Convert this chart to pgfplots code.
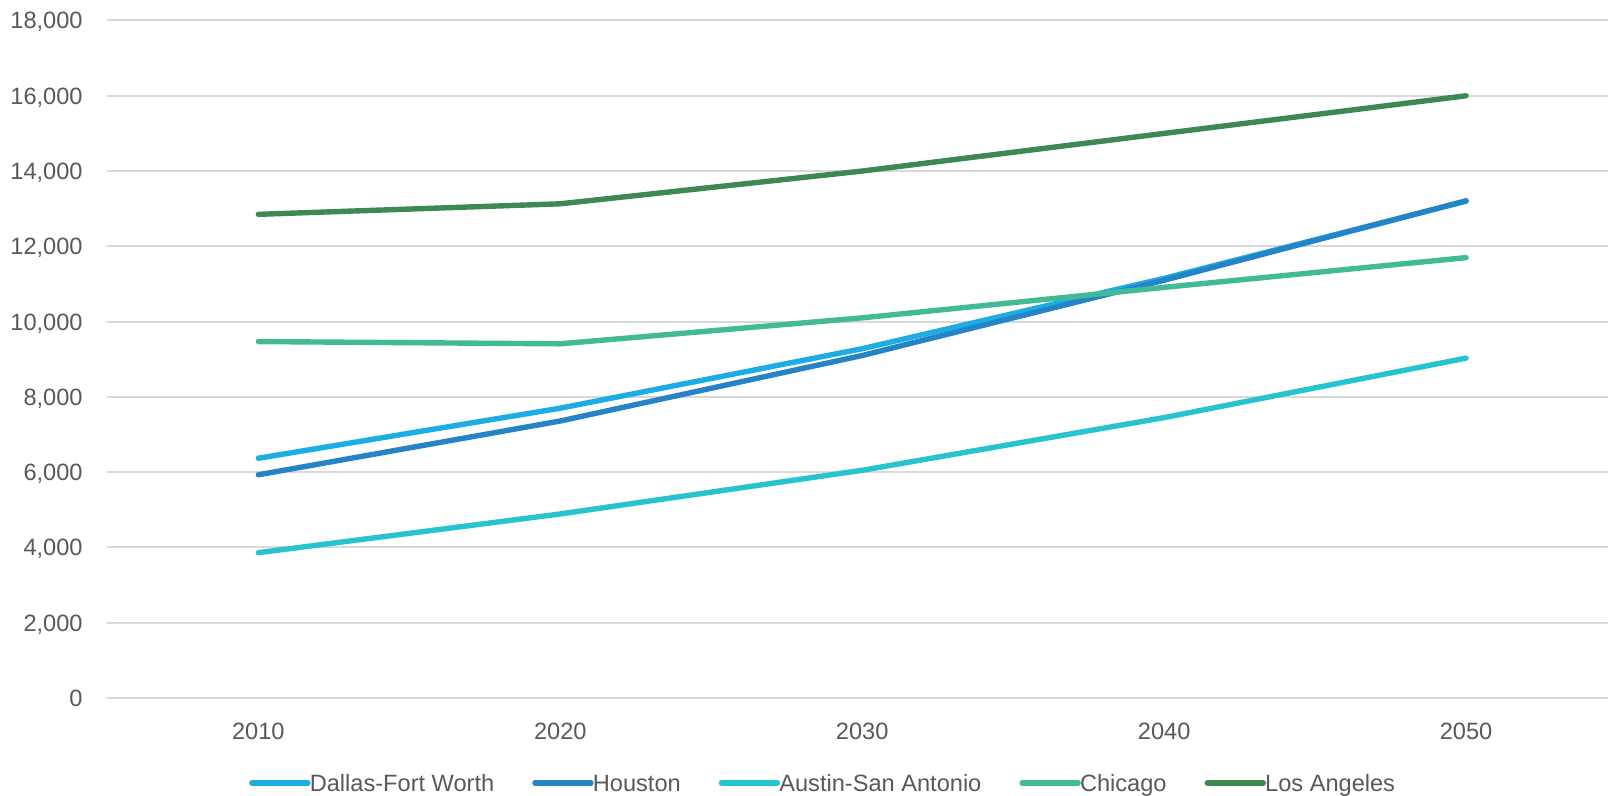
\documentclass[border=0pt]{standalone}
\usepackage{pgfplots}
\pgfplotsset{compat=1.18}
\usepackage{fontspec}
\setmainfont{Liberation Sans}

\definecolor{dfw}{HTML}{1CADE4}
\definecolor{hou}{HTML}{2683C6}
\definecolor{aus}{HTML}{27C4CE}
\definecolor{chi}{HTML}{42BA97}
\definecolor{lax}{HTML}{3E8853}
\definecolor{txt}{HTML}{595959}
\definecolor{gridc}{HTML}{D9D9D9}

\newcommand{\lblfont}{\fontsize{11.8bp}{14.1bp}\selectfont}

\begin{document}
\begin{tikzpicture}
\begin{axis}[
  at={(0,0)}, anchor=south west,
  scale only axis,
  width=750.3bp, height=338.75bp,
  xmin=2005, xmax=2054.7,
  ymin=0, ymax=18000,
  xtick={2010,2020,2030,2040,2050},
  ytick={0,2000,...,18000},
  axis line style={draw=none},
  major tick length=0pt,
  ymajorgrids,
  grid style={gridc, line width=1bp},
  scaled y ticks=false,
  /pgf/number format/assume math mode=true,
  tick label style={font=\lblfont, text=txt, inner sep=0pt},
  yticklabel style={anchor=base east, xshift=-12.2bp, yshift=-4.2bp,
    /pgf/number format/1000 sep={,}},
  xticklabel style={anchor=base, yshift=-20.5bp,
    /pgf/number format/1000 sep={}},
  every axis plot/.append style={line width=2.7bp, line cap=round, line join=round},
  legend columns=5,
  legend style={
    at={(0.0945,-0.1255)}, anchor=west,
    draw=none, fill=none, inner sep=0pt, outer sep=0pt,
    font=\lblfont, text=txt,
    nodes={inner sep=0pt, text height=10.5bp, text depth=2bp},
    /tikz/every odd column/.append style={column sep=-0.4bp},
    /tikz/every even column/.append style={column sep=19bp},
  },
  legend cell align=left,
  legend image code/.code={%
    \path (0bp,0bp) -- (28bp,0bp);
    \draw[#1, line width=2.7bp, line cap=round] (1.3bp,0bp) -- (26.7bp,0bp);
  },
]
% Projected values, 2010--2050
\addplot[dfw] coordinates {(2010,6370) (2020,7700) (2030,9280) (2040,11150) (2050,13200)};
\addlegendentry{Dallas-Fort Worth}
\addplot[hou] coordinates {(2010,5930) (2020,7360) (2030,9100) (2040,11100) (2050,13210)};
\addlegendentry{Houston}
\addplot[aus] coordinates {(2010,3860) (2020,4890) (2030,6050) (2040,7450) (2050,9030)};
\addlegendentry{Austin-San Antonio}
\addplot[chi] coordinates {(2010,9470) (2020,9410) (2030,10100) (2040,10910) (2050,11700)};
\addlegendentry{Chicago}
\addplot[lax] coordinates {(2010,12850) (2020,13130) (2030,14000) (2040,15000) (2050,16000)};
\addlegendentry{Los Angeles}
\end{axis}
\pgfresetboundingbox
\useasboundingbox (-53.7bp,-49bp) rectangle (750.3bp,349bp);
\end{tikzpicture}
\end{document}
